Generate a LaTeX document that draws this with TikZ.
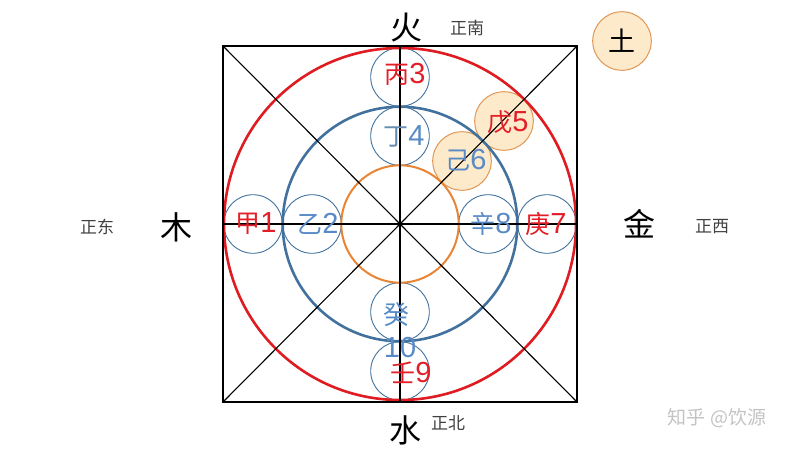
\documentclass[tikz,border=0pt]{standalone}
\usepackage{fontspec}
\setmainfont{Liberation Sans}
\newfontfamily\cjk{Noto Sans CJK SC}
\definecolor{ringred}{RGB}{222,28,34}
\definecolor{ringblue}{RGB}{65,113,156}
\definecolor{ringorange}{RGB}{232,132,52}
\definecolor{txtred}{RGB}{226,30,40}
\definecolor{txtblue}{RGB}{88,138,198}
\definecolor{earthfill}{RGB}{253,234,202}
\definecolor{earthline}{RGB}{225,150,85}
\definecolor{wm}{RGB}{195,195,195}
\newcommand\ganzhi[2]{{\cjk\fontsize{25}{30}\selectfont #1}{\fontsize{29}{30}\selectfont #2}}
\begin{document}
\begin{tikzpicture}[x=1pt,y=-1pt,
  small/.style={circle,draw=ringblue,line width=0.9pt,minimum size=58.6pt,inner sep=0pt},
  earth/.style={circle,draw=earthline,fill=earthfill,line width=1pt,minimum size=58.6pt,inner sep=0pt},
  lbl/.style={inner sep=0pt,anchor=center},
  big/.style={lbl,font=\cjk\fontsize{32}{34}\selectfont},
  dir/.style={lbl,font=\cjk\fontsize{17}{20}\selectfont,text=black!75},
  thin/.style={line width=1.1pt,black}]
\useasboundingbox (0,0) rectangle (800,450);
\coordinate (O) at (400,224);
% square corners
\coordinate (NW) at (223,46);
\coordinate (NE) at (577,46);
\coordinate (SW) at (223,402);
\coordinate (SE) at (577,402);
\coordinate (N) at (400,46);
\coordinate (S) at (400,402);
\coordinate (W) at (223,224);
\coordinate (E) at (577,224);
% earth circles
\node[earth] (wu) at (504,121) {};
\node[earth] (ji) at (462,161) {};
\node[earth] (tu) at (622,41) {};
% small circles
\node[small] (bing) at (400,77) {};
\node[small] (ding) at (400,136) {};
\node[small] (jia) at (253,224) {};
\node[small] (yi) at (312,224) {};
\node[small] (xin) at (488,224) {};
\node[small] (geng) at (547,224) {};
\node[small] (gui) at (400,312) {};
\node[small] (ren) at (400,371) {};
% rings
\draw[ringorange,line width=2pt] (O) circle (58.7);
\draw[ringblue,line width=2.6pt] (O) circle (117.3);
\draw[ringred,line width=2.6pt] (O) circle (176);
% lines
\draw[thin] (NW) -- (SE);
\draw[thin] (NE) -- (SW);
\draw[thin] (N) -- (S);
\draw[thin] (W) -- (E);
\draw[black,line width=2.2pt] (NW) rectangle (SE);
% stem labels
\node[lbl,text=txtred] (tbing) at (405,74) {\ganzhi{丙}{3}};
\node[lbl] (tding) at (404,136) {{\cjk\fontsize{25}{30}\selectfont\color{ringblue!80}丁}{\fontsize{29}{30}\selectfont\color{txtblue}4}};
\node[lbl,text=txtred] (tjia) at (256,224) {\ganzhi{甲}{1}};
\node[lbl,text=txtblue] (tyi) at (318,224) {\ganzhi{乙}{2}};
\node[lbl,text=txtblue] (txin) at (491,224) {\ganzhi{辛}{8}};
\node[lbl,text=txtred] (tgeng) at (546,224) {\ganzhi{庚}{7}};
\node[lbl,text=txtred] (twu) at (508,122) {\ganzhi{戊}{5}};
\node[lbl,text=txtblue] (tji) at (466,160) {\ganzhi{己}{6}};
\node[lbl,text=txtblue,font=\cjk\fontsize{26}{30}\selectfont] (tgui) at (396,315) {癸};
\node[lbl,text=txtblue,font=\fontsize{29}{30}\selectfont] (tten) at (400,348) {10};
\node[lbl,text=txtred] (tren) at (411,373) {\ganzhi{壬}{9}};
\node[lbl,font=\cjk\fontsize{27}{30}\selectfont] (ttu) at (622,41) {土};
% element labels
\node[big] (huo) at (406,28) {火};
\node[big] (mu) at (176,227) {木};
\node[big] (jin) at (639,224) {金};
\node[big] (shui) at (405,430) {水};
% direction labels
\node[dir] (nan) at (467,28) {正南};
\node[dir] (dong) at (97,227) {正东};
\node[dir] (xi) at (712,227) {正西};
\node[dir] (bei) at (448,423) {正北};
% watermark
\node[lbl,font=\cjk\fontsize{19}{22}\selectfont,text=wm] (mark) at (717,418) {知乎 @饮源};
\end{tikzpicture}
\end{document}
